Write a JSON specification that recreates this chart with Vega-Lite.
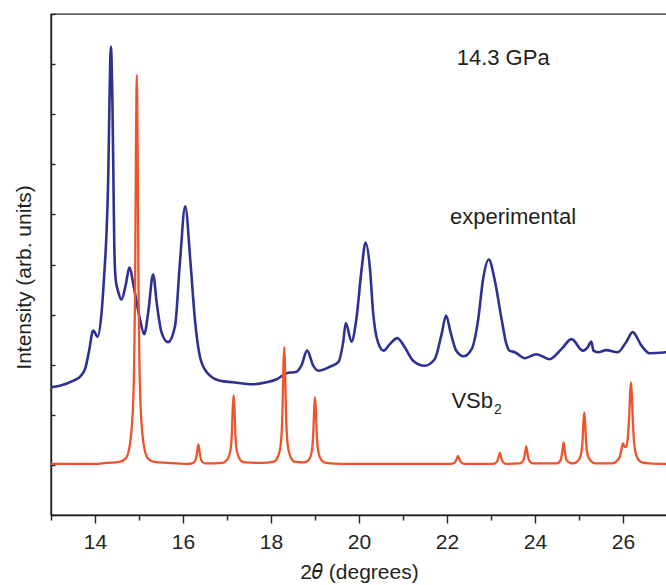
{
  "$schema": "https://vega.github.io/schema/vega-lite/v6.json",
  "width": 616,
  "height": 501,
  "autosize": "none",
  "padding": {"left": 51, "top": 14, "right": 0, "bottom": 70},
  "background": "white",
  "config": {
    "font": "Liberation Sans",
    "view": {"stroke": "#231f20", "strokeWidth": 1.4},
    "axis": {
      "domainColor": "#231f20",
      "domainWidth": 1.4,
      "tickColor": "#231f20",
      "tickWidth": 1.4,
      "labelFont": "Liberation Sans",
      "titleFont": "Liberation Sans",
      "labelColor": "#231f20",
      "titleColor": "#231f20",
      "grid": false
    }
  },
  "datasets": {
    "experimental": [
      {"two_theta": 13.0, "intensity": 2.55}, {"two_theta": 13.2, "intensity": 2.58},
      {"two_theta": 13.51, "intensity": 2.68}, {"two_theta": 13.68, "intensity": 2.78},
      {"two_theta": 13.78, "intensity": 2.93}, {"two_theta": 13.86, "intensity": 3.25},
      {"two_theta": 13.96, "intensity": 3.68},
      {"two_theta": 14.06, "intensity": 3.56}, {"two_theta": 14.15, "intensity": 4.05},
      {"two_theta": 14.21, "intensity": 4.8}, {"two_theta": 14.26, "intensity": 5.6},
      {"two_theta": 14.3, "intensity": 6.7}, {"two_theta": 14.33, "intensity": 8.3},
      {"two_theta": 14.36, "intensity": 9.35}, {"two_theta": 14.4, "intensity": 8.0},
      {"two_theta": 14.42, "intensity": 6.6}, {"two_theta": 14.44, "intensity": 5.3},
      {"two_theta": 14.47, "intensity": 4.7}, {"two_theta": 14.53, "intensity": 4.45},
      {"two_theta": 14.6, "intensity": 4.3}, {"two_theta": 14.7, "intensity": 4.6},
      {"two_theta": 14.78, "intensity": 4.94}, {"two_theta": 14.89, "intensity": 4.51},
      {"two_theta": 15.02, "intensity": 3.91}, {"two_theta": 15.12, "intensity": 3.61},
      {"two_theta": 15.21, "intensity": 4.05}, {"two_theta": 15.32, "intensity": 4.8},
      {"two_theta": 15.41, "intensity": 4.18}, {"two_theta": 15.51, "intensity": 3.65},
      {"two_theta": 15.66, "intensity": 3.45}, {"two_theta": 15.82, "intensity": 3.78},
      {"two_theta": 15.93, "intensity": 5.04}, {"two_theta": 16.05, "intensity": 6.16},
      {"two_theta": 16.17, "intensity": 5.04}, {"two_theta": 16.27, "intensity": 3.91},
      {"two_theta": 16.38, "intensity": 3.18}, {"two_theta": 16.54, "intensity": 2.85},
      {"two_theta": 16.84, "intensity": 2.68}, {"two_theta": 17.13, "intensity": 2.65},
      {"two_theta": 17.59, "intensity": 2.61}, {"two_theta": 17.9, "intensity": 2.65},
      {"two_theta": 18.13, "intensity": 2.71}, {"two_theta": 18.35, "intensity": 2.83},
      {"two_theta": 18.58, "intensity": 2.86}, {"two_theta": 18.69, "intensity": 2.98},
      {"two_theta": 18.82, "intensity": 3.28}, {"two_theta": 18.96, "intensity": 2.98},
      {"two_theta": 19.07, "intensity": 2.88}, {"two_theta": 19.34, "intensity": 2.96},
      {"two_theta": 19.53, "intensity": 3.05}, {"two_theta": 19.64, "intensity": 3.45},
      {"two_theta": 19.7, "intensity": 3.83}, {"two_theta": 19.83, "intensity": 3.46},
      {"two_theta": 19.94, "intensity": 3.91}, {"two_theta": 20.06, "intensity": 4.91},
      {"two_theta": 20.15, "intensity": 5.44}, {"two_theta": 20.25, "intensity": 4.91},
      {"two_theta": 20.32, "intensity": 4.05}, {"two_theta": 20.43, "intensity": 3.45},
      {"two_theta": 20.56, "intensity": 3.28}, {"two_theta": 20.7, "intensity": 3.41},
      {"two_theta": 20.87, "intensity": 3.53}, {"two_theta": 21.04, "intensity": 3.35},
      {"two_theta": 21.23, "intensity": 3.08}, {"two_theta": 21.49, "intensity": 2.98},
      {"two_theta": 21.72, "intensity": 3.11}, {"two_theta": 21.87, "intensity": 3.58},
      {"two_theta": 21.98, "intensity": 3.98}, {"two_theta": 22.08, "intensity": 3.65},
      {"two_theta": 22.21, "intensity": 3.28}, {"two_theta": 22.38, "intensity": 3.17},
      {"two_theta": 22.56, "intensity": 3.31}, {"two_theta": 22.71, "intensity": 3.91},
      {"two_theta": 22.82, "intensity": 4.71}, {"two_theta": 22.95, "intensity": 5.1},
      {"two_theta": 23.08, "intensity": 4.71}, {"two_theta": 23.24, "intensity": 3.91},
      {"two_theta": 23.35, "intensity": 3.41}, {"two_theta": 23.42, "intensity": 3.28},
      {"two_theta": 23.54, "intensity": 3.25}, {"two_theta": 23.77, "intensity": 3.13},
      {"two_theta": 24.03, "intensity": 3.21}, {"two_theta": 24.33, "intensity": 3.11},
      {"two_theta": 24.6, "intensity": 3.31}, {"two_theta": 24.83, "intensity": 3.51},
      {"two_theta": 25.09, "intensity": 3.28}, {"two_theta": 25.2, "intensity": 3.35},
      {"two_theta": 25.28, "intensity": 3.46}, {"two_theta": 25.33, "intensity": 3.28},
      {"two_theta": 25.43, "intensity": 3.25}, {"two_theta": 25.62, "intensity": 3.29},
      {"two_theta": 25.88, "intensity": 3.25}, {"two_theta": 26.07, "intensity": 3.45},
      {"two_theta": 26.22, "intensity": 3.65}, {"two_theta": 26.42, "intensity": 3.38},
      {"two_theta": 26.6, "intensity": 3.23}, {"two_theta": 27.0, "intensity": 3.25}
    ],
    "vsb2": [
      {"two_theta": 13.0, "intensity": 1.02}, {"two_theta": 14.0, "intensity": 1.02},
      {"two_theta": 14.25, "intensity": 1.04}, {"two_theta": 14.55, "intensity": 1.06},
      {"two_theta": 14.7, "intensity": 1.13}, {"two_theta": 14.8, "intensity": 1.45},
      {"two_theta": 14.84, "intensity": 1.8}, {"two_theta": 14.87, "intensity": 2.3},
      {"two_theta": 14.89, "intensity": 3.0}, {"two_theta": 14.91, "intensity": 4.4},
      {"two_theta": 14.93, "intensity": 7.2}, {"two_theta": 14.95, "intensity": 8.78},
      {"two_theta": 14.97, "intensity": 7.2}, {"two_theta": 14.99, "intensity": 4.4},
      {"two_theta": 15.01, "intensity": 3.0}, {"two_theta": 15.03, "intensity": 2.3},
      {"two_theta": 15.06, "intensity": 1.8}, {"two_theta": 15.1, "intensity": 1.45},
      {"two_theta": 15.2, "intensity": 1.13}, {"two_theta": 15.35, "intensity": 1.06},
      {"two_theta": 15.65, "intensity": 1.04}, {"two_theta": 16.1, "intensity": 1.02},
      {"two_theta": 16.2, "intensity": 1.03}, {"two_theta": 16.27, "intensity": 1.07},
      {"two_theta": 16.31, "intensity": 1.19}, {"two_theta": 16.35, "intensity": 1.41},
      {"two_theta": 16.39, "intensity": 1.19}, {"two_theta": 16.43, "intensity": 1.07},
      {"two_theta": 16.5, "intensity": 1.03}, {"two_theta": 16.9, "intensity": 1.04},
      {"two_theta": 17.0, "intensity": 1.1}, {"two_theta": 17.07, "intensity": 1.25},
      {"two_theta": 17.11, "intensity": 1.62}, {"two_theta": 17.13, "intensity": 2.12},
      {"two_theta": 17.15, "intensity": 2.39}, {"two_theta": 17.17, "intensity": 2.12},
      {"two_theta": 17.19, "intensity": 1.62}, {"two_theta": 17.23, "intensity": 1.25},
      {"two_theta": 17.3, "intensity": 1.1}, {"two_theta": 17.4, "intensity": 1.05},
      {"two_theta": 17.8, "intensity": 1.04}, {"two_theta": 18.05, "intensity": 1.06},
      {"two_theta": 18.15, "intensity": 1.15}, {"two_theta": 18.22, "intensity": 1.4},
      {"two_theta": 18.26, "intensity": 2.05}, {"two_theta": 18.28, "intensity": 2.88},
      {"two_theta": 18.3, "intensity": 3.35}, {"two_theta": 18.32, "intensity": 2.88},
      {"two_theta": 18.34, "intensity": 2.05}, {"two_theta": 18.38, "intensity": 1.4},
      {"two_theta": 18.45, "intensity": 1.15}, {"two_theta": 18.55, "intensity": 1.06},
      {"two_theta": 18.75, "intensity": 1.05}, {"two_theta": 18.85, "intensity": 1.09},
      {"two_theta": 18.92, "intensity": 1.24}, {"two_theta": 18.96, "intensity": 1.61},
      {"two_theta": 18.98, "intensity": 2.08}, {"two_theta": 19.0, "intensity": 2.35},
      {"two_theta": 19.02, "intensity": 2.08}, {"two_theta": 19.04, "intensity": 1.61},
      {"two_theta": 19.08, "intensity": 1.24}, {"two_theta": 19.15, "intensity": 1.09},
      {"two_theta": 19.25, "intensity": 1.04}, {"two_theta": 19.6, "intensity": 1.02},
      {"two_theta": 22.1, "intensity": 1.02}, {"two_theta": 22.18, "intensity": 1.05},
      {"two_theta": 22.22, "intensity": 1.12}, {"two_theta": 22.25, "intensity": 1.18},
      {"two_theta": 22.28, "intensity": 1.12}, {"two_theta": 22.32, "intensity": 1.05},
      {"two_theta": 22.4, "intensity": 1.02}, {"two_theta": 23.05, "intensity": 1.02},
      {"two_theta": 23.13, "intensity": 1.06}, {"two_theta": 23.17, "intensity": 1.15},
      {"two_theta": 23.2, "intensity": 1.24}, {"two_theta": 23.23, "intensity": 1.15},
      {"two_theta": 23.27, "intensity": 1.06}, {"two_theta": 23.35, "intensity": 1.02},
      {"two_theta": 23.65, "intensity": 1.03}, {"two_theta": 23.73, "intensity": 1.08},
      {"two_theta": 23.77, "intensity": 1.22}, {"two_theta": 23.8, "intensity": 1.37},
      {"two_theta": 23.83, "intensity": 1.22}, {"two_theta": 23.87, "intensity": 1.08},
      {"two_theta": 23.95, "intensity": 1.03}, {"two_theta": 24.5, "intensity": 1.03},
      {"two_theta": 24.58, "intensity": 1.09}, {"two_theta": 24.62, "intensity": 1.26},
      {"two_theta": 24.65, "intensity": 1.45}, {"two_theta": 24.68, "intensity": 1.26},
      {"two_theta": 24.72, "intensity": 1.09}, {"two_theta": 24.8, "intensity": 1.04},
      {"two_theta": 24.87, "intensity": 1.03}, {"two_theta": 24.97, "intensity": 1.08},
      {"two_theta": 25.04, "intensity": 1.19}, {"two_theta": 25.08, "intensity": 1.47},
      {"two_theta": 25.1, "intensity": 1.84}, {"two_theta": 25.12, "intensity": 2.05},
      {"two_theta": 25.14, "intensity": 1.84}, {"two_theta": 25.16, "intensity": 1.47},
      {"two_theta": 25.2, "intensity": 1.19}, {"two_theta": 25.27, "intensity": 1.08},
      {"two_theta": 25.37, "intensity": 1.03}, {"two_theta": 25.75, "intensity": 1.03},
      {"two_theta": 25.85, "intensity": 1.07}, {"two_theta": 25.93, "intensity": 1.17},
      {"two_theta": 25.97, "intensity": 1.33}, {"two_theta": 26.0, "intensity": 1.43},
      {"two_theta": 26.04, "intensity": 1.36}, {"two_theta": 26.07, "intensity": 1.36},
      {"two_theta": 26.11, "intensity": 1.55}, {"two_theta": 26.14, "intensity": 1.95},
      {"two_theta": 26.16, "intensity": 2.4}, {"two_theta": 26.18, "intensity": 2.65},
      {"two_theta": 26.2, "intensity": 2.4}, {"two_theta": 26.22, "intensity": 1.95},
      {"two_theta": 26.26, "intensity": 1.38}, {"two_theta": 26.33, "intensity": 1.13},
      {"two_theta": 26.43, "intensity": 1.05}, {"two_theta": 26.6, "intensity": 1.03},
      {"two_theta": 27.0, "intensity": 1.02}
    ],
    "labels": [
      {"two_theta": 22.22, "intensity": 8.98, "text": "14.3 GPa"},
      {"two_theta": 22.07, "intensity": 5.81, "text": "experimental"},
      {"two_theta": 22.1, "intensity": 2.13, "text": "VSb"}
    ],
    "subscripts": [
      {"two_theta": 23.07, "intensity": 2.01, "text": "2"}
    ]
  },
  "layer": [
    {
      "data": {"name": "experimental"},
      "mark": {"type": "line", "color": "#2e3192", "strokeWidth": 2.6, "interpolate": "monotone", "clip": true},
      "encoding": {
        "x": {
          "field": "two_theta", "type": "quantitative",
          "scale": {"domain": [13, 27], "nice": false, "zero": false},
          "axis": {
            "title": "2𝜃 (degrees)",
            "titleFontSize": 21,
            "titleFontWeight": "normal",
            "titlePadding": 9,
            "values": [13, 14, 15, 16, 17, 18, 19, 20, 21, 22, 23, 24, 25, 26],
            "labelExpr": "datum.value % 2 === 0 ? datum.label : ''",
            "labelFontSize": 21,
            "labelPadding": 8,
            "tickSize": {"condition": {"test": "datum.value % 2 === 0", "value": 8}, "value": 5}
          }
        },
        "y": {
          "field": "intensity", "type": "quantitative",
          "scale": {"domain": [0, 10], "nice": false, "zero": false},
          "axis": {
            "title": "Intensity (arb. units)",
            "titleFontSize": 21,
            "titleFontWeight": "normal",
            "titlePadding": 16,
            "titleY": 263,
            "values": [0, 1, 2, 3, 4, 5, 6, 7, 8, 9, 10],
            "labels": false,
            "tickSize": -4
          }
        }
      }
    },
    {
      "data": {"name": "vsb2"},
      "mark": {"type": "line", "color": "#f0522a", "strokeWidth": 2.3, "interpolate": "monotone", "clip": true},
      "encoding": {
        "x": {"field": "two_theta", "type": "quantitative"},
        "y": {"field": "intensity", "type": "quantitative"}
      }
    },
    {
      "data": {"name": "labels"},
      "mark": {"type": "text", "align": "left", "baseline": "alphabetic", "fontSize": 22, "font": "Liberation Sans", "color": "#231f20"},
      "encoding": {
        "x": {"field": "two_theta", "type": "quantitative"},
        "y": {"field": "intensity", "type": "quantitative"},
        "text": {"field": "text"}
      }
    },
    {
      "data": {"name": "subscripts"},
      "mark": {"type": "text", "align": "left", "baseline": "alphabetic", "fontSize": 14, "font": "Liberation Sans", "color": "#231f20"},
      "encoding": {
        "x": {"field": "two_theta", "type": "quantitative"},
        "y": {"field": "intensity", "type": "quantitative"},
        "text": {"field": "text"}
      }
    }
  ]
}
